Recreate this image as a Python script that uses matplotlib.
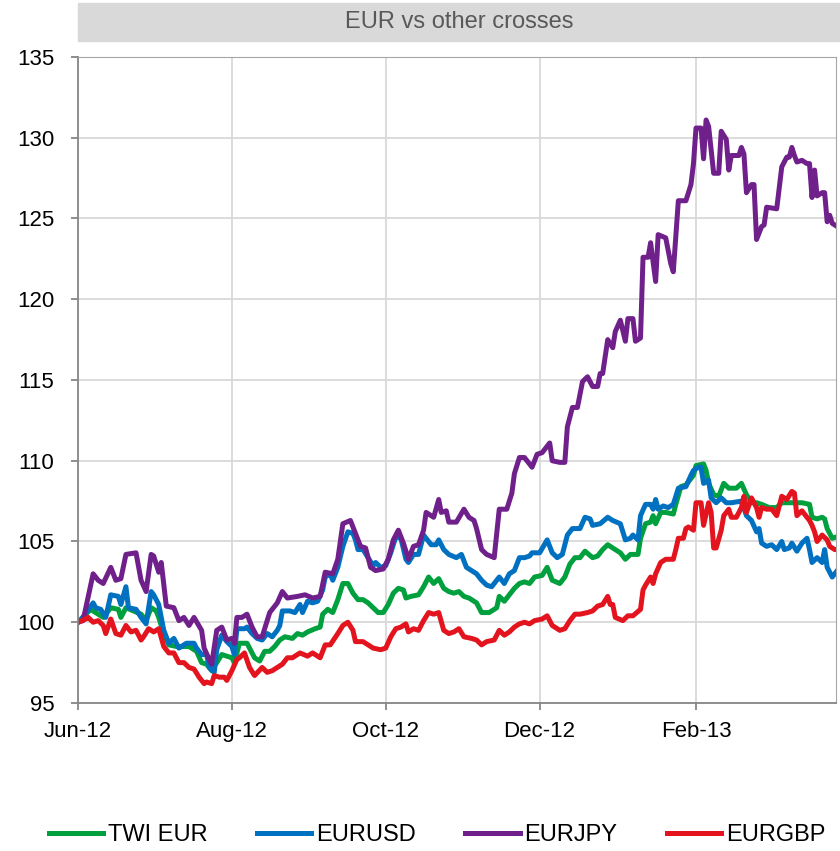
import matplotlib
matplotlib.use("Agg")
import matplotlib.pyplot as plt
import matplotlib.dates as mdates
from matplotlib.patches import Rectangle
import pandas as pd

# days counted from 1 Jun 2012, index levels rebased to 100
start = pd.Timestamp("2012-06-01")

twi_days = [0, 5, 7, 10, 13, 16, 17, 19, 22, 25, 27, 29, 31, 32, 34, 36, 39, 42, 44, 47,
            49, 51, 53, 55, 57, 59, 61, 62, 64, 67, 70, 72, 74, 76, 78, 80, 82, 85, 87, 89,
            91, 94, 96, 97, 99, 101, 103, 105, 107, 109, 111, 113, 115, 117, 119, 121, 123, 125, 127, 129,
            130, 132, 135, 137, 139, 141, 143, 145, 147, 149, 151, 153, 155, 158, 160, 163, 166, 167, 169, 171,
            173, 175, 177, 179, 181, 184, 186, 188, 191, 193, 195, 197, 199, 201, 204, 206, 208, 210, 212, 213,
            215, 217, 219, 222, 223, 225, 227, 228, 229, 231, 233, 236, 237, 239, 241, 244, 245, 248, 249, 250,
            252, 254, 256, 258, 261, 263, 265, 267, 269, 271, 274, 277, 279, 282, 285, 287, 290, 291, 293, 295,
            296, 297, 299, 301]
twi_vals = [100.0, 100.8, 100.6, 100.3, 100.9, 100.8, 100.3, 100.9, 100.7, 100.5, 100.1, 100.9, 100.7, 100.3, 99.3, 98.6, 98.5, 98.5, 98.5, 98.2,
            97.5, 97.4, 97.0, 97.5, 98.0, 97.9, 97.8, 97.5, 98.7, 98.7, 97.8, 97.6, 98.2, 98.2, 98.5, 98.9, 99.1, 99.0, 99.3, 99.2,
            99.4, 99.6, 99.7, 100.5, 100.8, 100.6, 101.4, 102.4, 102.4, 101.8, 101.4, 101.4, 101.2, 100.9, 100.6, 100.6, 101.1, 101.8, 102.1, 102.0,
            101.5, 101.6, 101.7, 102.2, 102.8, 102.4, 102.7, 102.1, 101.9, 101.8, 101.9, 101.6, 101.5, 101.2, 100.6, 100.6, 100.9, 101.6, 101.3, 101.7,
            102.1, 102.4, 102.5, 102.4, 102.8, 102.9, 103.4, 102.6, 102.4, 102.8, 103.6, 104.0, 104.0, 104.4, 104.0, 104.1, 104.5, 104.8, 104.6, 104.5,
            104.3, 103.9, 104.2, 104.2, 105.2, 106.1, 106.2, 106.6, 106.1, 106.8, 106.8, 106.7, 107.3, 108.4, 108.5, 109.1, 109.7, 109.8, 109.4, 108.6,
            107.9, 107.8, 108.6, 108.3, 108.3, 108.6, 107.9, 107.4, 107.4, 107.3, 107.1, 107.1, 107.4, 107.4, 107.4, 107.4, 107.3, 106.5, 106.4, 106.5,
            106.4, 105.8, 105.2, 105.3]

usd_days = [0, 1, 6, 7, 9, 11, 13, 16, 17, 19, 20, 23, 25, 27, 29, 30, 32, 34, 36, 38,
            40, 43, 46, 47, 49, 51, 52, 54, 55, 57, 59, 61, 62, 63, 66, 67, 69, 71, 73, 75,
            77, 79, 80, 81, 84, 86, 88, 89, 91, 93, 95, 97, 98, 100, 101, 103, 105, 107, 109, 110,
            111, 113, 115, 117, 118, 120, 122, 124, 126, 128, 130, 131, 133, 135, 137, 140, 142, 143, 145, 147,
            150, 152, 154, 156, 158, 160, 162, 164, 167, 169, 171, 173, 175, 177, 179, 180, 183, 186, 188, 190,
            192, 194, 196, 199, 201, 203, 204, 207, 210, 212, 215, 217, 219, 220, 222, 223, 225, 227, 228, 229,
            230, 232, 234, 236, 238, 241, 243, 244, 246, 247, 248, 250, 251, 253, 255, 257, 259, 263, 265, 267,
            269, 270, 271, 273, 275, 277, 279, 280, 282, 283, 285, 287, 289, 290, 291, 293, 295, 296, 297, 299,
            301]
usd_vals = [100.0, 100.1, 101.2, 100.9, 100.8, 100.3, 101.7, 101.6, 101.1, 102.2, 100.9, 100.8, 100.3, 99.9, 101.9, 101.7, 101.1, 99.5, 98.7, 99.0,
            98.4, 98.7, 98.7, 98.4, 98.0, 98.0, 97.2, 96.9, 98.3, 99.2, 98.8, 98.5, 98.0, 99.6, 99.6, 99.7, 99.3, 99.0, 98.9, 99.3,
            99.1, 99.5, 99.8, 100.7, 100.7, 100.6, 101.1, 100.6, 101.3, 101.2, 101.3, 102.0, 102.8, 103.0, 102.6, 103.4, 104.7, 105.6, 105.5, 105.1,
            104.5, 104.5, 104.0, 103.5, 103.7, 103.4, 103.5, 104.3, 105.3, 105.2, 103.9, 103.7, 104.2, 104.2, 105.4, 104.8, 104.8, 105.1, 104.5, 104.2,
            104.0, 104.2, 103.4, 103.2, 103.0, 102.6, 102.3, 102.2, 102.8, 102.4, 103.0, 103.2, 104.0, 104.0, 104.1, 104.3, 104.3, 105.1, 104.3, 104.0,
            104.2, 105.4, 105.8, 105.8, 106.5, 106.4, 106.0, 106.1, 106.5, 106.3, 106.1, 105.1, 105.2, 105.4, 105.1, 106.6, 107.3, 107.3, 107.0, 107.6,
            107.0, 107.2, 107.1, 107.3, 108.3, 108.4, 109.1, 109.4, 109.6, 109.6, 108.6, 108.8, 107.7, 107.4, 107.7, 107.4, 107.4, 107.5, 106.6, 106.3,
            105.6, 105.8, 104.9, 104.7, 104.8, 104.5, 105.0, 104.5, 104.6, 104.9, 104.4, 104.9, 105.2, 104.5, 103.7, 104.0, 103.7, 104.5, 103.4, 102.8,
            103.2]

jpy_days = [0, 2, 6, 8, 10, 13, 15, 17, 19, 23, 25, 27, 29, 30, 32, 33, 35, 38, 40, 42,
            44, 46, 49, 50, 52, 53, 55, 57, 59, 61, 62, 63, 65, 67, 69, 71, 73, 76, 79, 81,
            83, 87, 90, 93, 96, 98, 101, 103, 105, 108, 110, 112, 114, 116, 118, 121, 123, 125, 127, 129,
            131, 133, 135, 137, 138, 141, 143, 144, 146, 147, 150, 153, 155, 157, 158, 160, 162, 165, 167, 170,
            172, 173, 175, 177, 180, 182, 184, 187, 188, 191, 193, 194, 196, 198, 200, 202, 204, 206, 207, 208,
            210, 212, 213, 215, 217, 218, 220, 221, 223, 224, 226, 227, 229, 230, 233, 235, 236, 238, 241, 243,
            244, 245, 247, 248, 249, 250, 252, 254, 255, 257, 258, 259, 262, 263, 264, 265, 267, 268, 269, 271,
            272, 273, 277, 279, 281, 282, 283, 284, 285, 287, 289, 290, 291, 292, 293, 295, 296, 297, 298, 299,
            301]
jpy_vals = [100.0, 100.1, 103.0, 102.6, 102.4, 103.4, 102.6, 102.7, 104.2, 104.3, 102.6, 101.9, 104.2, 104.1, 103.1, 103.7, 101.0, 100.9, 100.1, 100.3,
            99.8, 100.3, 99.5, 98.4, 97.7, 97.4, 99.5, 99.7, 98.9, 99.0, 98.7, 100.3, 100.3, 100.5, 99.7, 99.1, 99.1, 100.6, 101.2, 101.9,
            101.5, 101.6, 101.7, 101.5, 101.6, 103.1, 103.0, 103.9, 106.1, 106.3, 105.5, 104.7, 104.6, 103.4, 103.2, 103.3, 103.9, 105.1, 105.7, 104.9,
            103.9, 104.7, 104.8, 105.7, 106.8, 106.5, 107.6, 106.8, 106.9, 106.2, 106.2, 107.0, 106.5, 106.3, 105.8, 104.5, 104.2, 104.0, 107.0, 107.0,
            108.0, 109.2, 110.2, 110.2, 109.6, 110.4, 110.5, 111.1, 110.0, 109.9, 109.9, 112.1, 113.3, 113.3, 114.9, 115.2, 114.6, 114.6, 115.4, 115.4,
            117.5, 117.0, 118.0, 118.7, 117.4, 118.8, 118.8, 117.4, 117.6, 122.6, 122.6, 123.5, 121.1, 124.0, 123.8, 122.2, 121.7, 126.1, 126.1, 127.1,
            128.4, 130.6, 130.6, 128.7, 131.1, 130.7, 127.8, 127.8, 130.4, 129.9, 128.0, 128.9, 128.9, 129.4, 129.0, 126.6, 127.1, 127.1, 123.7, 124.5,
            124.6, 125.7, 125.6, 128.2, 128.8, 128.8, 129.4, 128.9, 128.5, 128.6, 128.4, 128.4, 126.3, 128.0, 126.4, 126.6, 126.6, 124.8, 125.2, 124.7,
            124.5]

gbp_days = [0, 3, 4, 6, 8, 10, 11, 13, 15, 17, 19, 21, 23, 25, 26, 28, 30, 32, 34, 36,
            38, 40, 42, 44, 46, 48, 50, 51, 53, 54, 56, 58, 59, 61, 63, 64, 66, 68, 70, 73,
            75, 77, 81, 83, 85, 88, 91, 93, 96, 98, 100, 103, 105, 107, 109, 110, 113, 115, 117, 120,
            122, 124, 126, 128, 130, 131, 133, 135, 137, 139, 141, 143, 145, 147, 149, 151, 153, 156, 158, 160,
            162, 165, 167, 169, 171, 173, 175, 177, 179, 181, 184, 186, 188, 191, 193, 195, 197, 199, 202, 204,
            206, 208, 210, 211, 212, 213, 216, 218, 220, 223, 224, 225, 227, 228, 229, 231, 233, 236, 237, 238,
            240, 241, 242, 244, 245, 247, 248, 250, 251, 252, 253, 255, 256, 258, 259, 261, 263, 264, 265, 267,
            269, 270, 271, 273, 275, 277, 279, 281, 283, 284, 285, 287, 290, 291, 292, 293, 295, 297, 298, 300,
            301]
gbp_vals = [100.0, 100.2, 100.3, 100.0, 100.1, 99.8, 99.3, 100.2, 99.3, 99.2, 99.8, 99.4, 99.5, 98.9, 99.1, 99.6, 99.4, 99.6, 98.5, 98.1,
            98.1, 97.5, 97.5, 97.2, 97.1, 96.6, 96.2, 96.3, 96.2, 96.7, 96.6, 96.6, 96.4, 97.0, 97.7, 97.8, 98.1, 97.2, 96.7, 97.2,
            96.9, 97.0, 97.4, 97.8, 97.8, 98.1, 97.9, 98.1, 97.8, 98.6, 98.6, 99.3, 99.8, 100.0, 99.5, 98.8, 98.8, 98.6, 98.4, 98.3,
            98.4, 99.1, 99.6, 99.7, 99.9, 99.4, 99.6, 99.5, 100.1, 100.6, 100.5, 100.6, 99.5, 99.3, 99.4, 99.6, 99.1, 99.0, 98.9, 98.6,
            98.8, 98.9, 99.5, 99.2, 99.4, 99.7, 99.9, 100.0, 99.9, 100.1, 100.2, 100.4, 99.8, 99.5, 99.6, 100.1, 100.5, 100.5, 100.6, 100.7,
            101.0, 101.1, 101.6, 101.1, 101.1, 100.3, 100.1, 100.4, 100.4, 100.8, 102.0, 102.3, 102.8, 102.4, 103.0, 103.7, 103.9, 103.9, 104.5, 105.2,
            105.2, 105.8, 105.9, 105.7, 107.4, 107.4, 106.0, 107.4, 106.8, 104.6, 104.6, 105.7, 106.6, 107.0, 106.5, 106.5, 107.1, 107.8, 106.8, 107.7,
            107.1, 106.5, 107.1, 107.0, 107.0, 106.6, 107.8, 107.6, 108.1, 108.0, 106.6, 106.9, 106.3, 106.0, 105.6, 105.0, 105.4, 105.1, 104.7, 104.5,
            104.5]

names = ["TWI EUR", "EURUSD", "EURJPY", "EURGBP"]
colors = ["#00A03E", "#0070C0", "#70208A", "#E3141E"]
y_ticks = [95, 100, 105, 110, 115, 120, 125, 130, 135]

plt.rcParams["font.family"] = ["Liberation Sans", "DejaVu Sans"]

fig = plt.figure(figsize=(8.4, 8.51), dpi=100)
ax = fig.add_axes([78 / 840, 1 - 703 / 851, (836 - 78) / 840, (703 - 57) / 851])

all_days = [twi_days, usd_days, jpy_days, gbp_days]
all_vals = [twi_vals, usd_vals, jpy_vals, gbp_vals]
for name, days, vals, col in zip(names, all_days, all_vals, colors):
    dates = start + pd.to_timedelta(days, unit="D")
    ax.plot(dates, vals, color=col, lw=3.6, label=name, solid_joinstyle="round")

ax.set_ylim(95, 135)
ax.set_yticks(y_ticks)
ax.set_xlim(start, start + pd.Timedelta(days=300.5))
ax.xaxis.set_major_locator(mdates.MonthLocator(bymonth=[2, 4, 6, 8, 10, 12]))
ax.xaxis.set_major_formatter(mdates.DateFormatter("%b-%y"))

ax.grid(True, color="#d9d9d9", lw=1.3)
ax.set_axisbelow(True)
for side in ["top", "right"]:
    ax.spines[side].set_color("#a6a6a6")
for side in ["left", "bottom"]:
    ax.spines[side].set_color("#868686")
    ax.spines[side].set_linewidth(1.3)
ax.tick_params(labelsize=16, length=5, width=1.3, color="#868686")
ax.tick_params(axis="y", pad=12)
ax.tick_params(axis="x", pad=8)

# grey title band
fig.add_artist(Rectangle((78 / 840, 1 - 41 / 851), 1 - 78 / 840, 38 / 851,
                         transform=fig.transFigure, color="#d9d9d9", zorder=0))
fig.text((78 + 840) / 2 / 840, 1 - 22 / 851, "EUR vs other crosses",
         ha="center", va="center", fontsize=17, color="#595959")

fig.legend(loc="center", bbox_to_anchor=(437 / 840, 1 - 835 / 851), ncol=4,
           frameon=False, fontsize=17, handlelength=2.3, columnspacing=2.1,
           handletextpad=0.2)

fig.savefig("out.png", dpi=100)
